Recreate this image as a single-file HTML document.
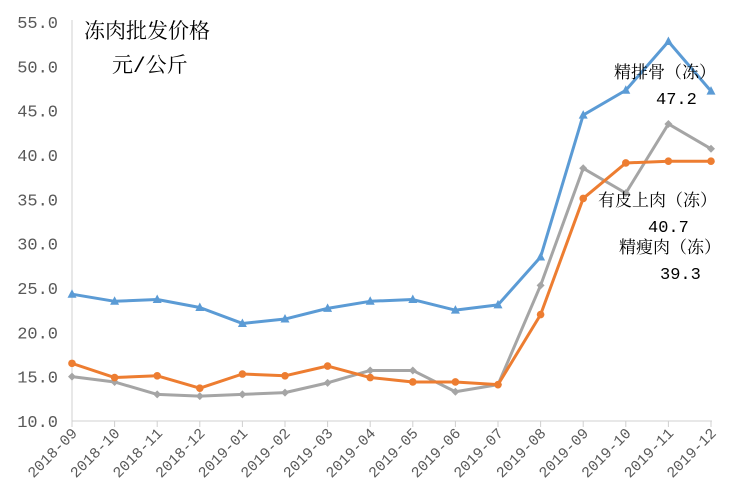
<!DOCTYPE html>
<html><head><meta charset="utf-8"><style>
body{margin:0;background:#fff}
svg text{font-family:"Liberation Mono","Noto Serif CJK SC",monospace}
</style></head><body>
<svg width="748" height="497" xmlns="http://www.w3.org/2000/svg">
<g id="c"></g>
</svg>
<script>
const s=document.querySelector('svg');
const X=i=>72+i*42.6, Y=v=>421-(v-10)*8.867;
let h='';
h+=`<line x1="72" y1="20" x2="72" y2="421" stroke="#d0d0d0"/><line x1="72" y1="421" x2="712" y2="421" stroke="#d0d0d0"/>`;
for(let v=10;v<=55;v+=5){h+=`<text x="58" y="${Y(v)+6}" font-size="17" fill="#595959" text-anchor="end">${v.toFixed(1)}</text>`;}
const lab=['2018-09','2018-10','2018-11','2018-12','2019-01','2019-02','2019-03','2019-04','2019-05','2019-06','2019-07','2019-08','2019-09','2019-10','2019-11','2019-12'];
lab.forEach((l,i)=>{const x=X(i);h+=`<line x1="${x}" y1="421" x2="${x}" y2="427" stroke="#d0d0d0"/><text transform="translate(${x+6},434) rotate(-45)" font-size="15" fill="#595959" text-anchor="end">${l}</text>`;});
const blue=[24.3,23.5,23.7,22.8,21.0,21.5,22.7,23.5,23.7,22.5,23.1,28.5,44.5,47.3,52.8,47.2];
const org=[16.5,14.9,15.1,13.7,15.3,15.1,16.2,14.9,14.4,14.4,14.1,22.0,35.1,39.1,39.3,39.3];
const gray=[15.0,14.4,13.0,12.8,13.0,13.2,14.3,15.7,15.7,13.3,14.1,25.3,38.5,35.7,43.5,40.7];
function line(d,c,m){h+=`<polyline fill="none" stroke="${c}" stroke-width="3" stroke-linejoin="round" points="${d.map((v,i)=>X(i)+','+Y(v)).join(' ')}"/>`;
d.forEach((v,i)=>{const x=X(i),y=Y(v);if(m=='t')h+=`<polygon points="${x},${y-5} ${x-4.5},${y+3.5} ${x+4.5},${y+3.5}" fill="${c}"/>`;else if(m=='c')h+=`<circle cx="${x}" cy="${y}" r="3.8" fill="${c}"/>`;else h+=`<polygon points="${x},${y-4} ${x+4},${y} ${x},${y+4} ${x-4},${y}" fill="${c}"/>`;});}
line(gray,'#a5a5a5','d');line(org,'#ed7d31','c');line(blue,'#5b9bd5','t');
const t=(x,y,s,z)=>h+=`<text x="${x}" y="${y}" font-size="${z||17}" fill="#000" font-family="Liberation Mono,Noto Serif CJK SC,serif">${s}</text>`;
t(84,38,'冻肉批发价格',21);t(112,72,'元/公斤',21);
t(614,78,'精排骨（冻）');t(656,104,'47.2');
t(598,206,'有皮上肉（冻）');t(648,232,'40.7');
t(619,253,'精瘦肉（冻）');t(660,279,'39.3');
s.innerHTML=h;
</script>
</body></html>
